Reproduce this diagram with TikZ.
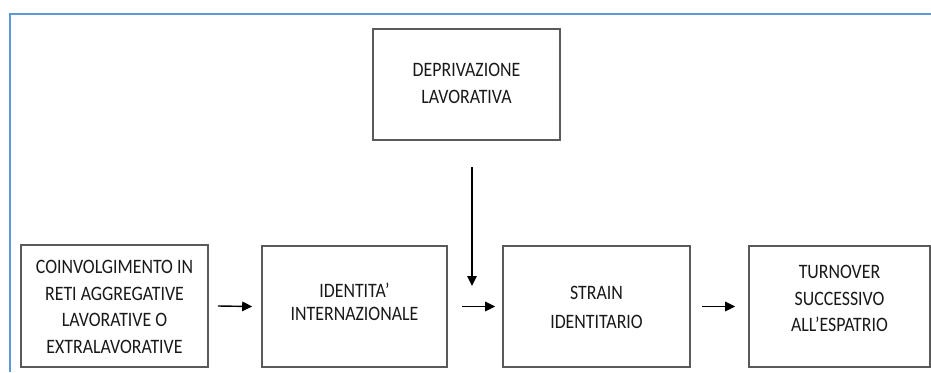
\documentclass[tikz,border=0pt]{standalone}
\usepackage{fontspec}
\setmainfont{Carlito}[FakeStretch=0.87]
\usetikzlibrary{arrows.meta,calc}
\definecolor{framebl}{RGB}{91,155,213}
\definecolor{boxline}{RGB}{90,90,90}
\definecolor{ink}{RGB}{25,25,25}
\tikzset{
  box/.style={draw=boxline, line width=1.6pt, fill=white, inner sep=0pt},
  txt/.style={text=ink, align=center, inner sep=0pt,
    font=\fontsize{20.5}{26.5}\selectfont},
  flow/.style={draw=black, line width=1.4pt,
    -{Triangle[length=10pt,width=9.5pt]}}
}
\begin{document}
\begin{tikzpicture}[x=1pt,y=-1pt]
  \useasboundingbox (0,0) rectangle (931,372);
  % outer frame (only left and top edges visible)
  \draw[framebl, line width=2pt] (10,372) -- (10,13.5) -- (931,13.5);

  % boxes
  \node[box, minimum width=187pt, minimum height=122pt] (b1) at (114.5,306) {};
  \node[box, minimum width=185pt, minimum height=121pt] (b2) at (354.5,306.5) {};
  \node[box, minimum width=187pt, minimum height=121pt] (b3) at (596.5,306.5) {};
  \node[box, minimum width=181pt, minimum height=121pt] (b4) at (839.5,306.5) {};
  \node[box, minimum width=187pt, minimum height=111pt] (dep) at (466.5,84.5) {};

  % labels
  \node[txt] (t1) at ($(b1.center)+(0,1)$) {COINVOLGIMENTO IN\\RETI AGGREGATIVE\\LAVORATIVE O\\EXTRALAVORATIVE};
  \node[txt, font=\fontsize{20.5}{23}\selectfont] (t2) at ($(b2.center)+(0,-5)$) {IDENTITA’\\INTERNAZIONALE};
  \node[txt, font=\fontsize{20.5}{28.5}\selectfont] (t3) at ($(b3.center)+(0,1)$) {STRAIN\\IDENTITARIO};
  \node[txt] (t4) at ($(b4.center)+(0,-8)$) {TURNOVER\\SUCCESSIVO\\ALL’ESPATRIO};
  \node[txt] (t5) at ($(dep.center)+(0,-1)$) {DEPRIVAZIONE\\LAVORATIVA};

  % connectors
  \coordinate (vtop) at (472,167);
  \coordinate (vend) at (472,286);
  \draw[flow] ($(b1.east)+(9,0)$) -- ($(b2.west)+(-9,0)$);
  \draw[flow] ($(b2.east)+(14,0)$) -- ($(b3.west)+(-7,0)$);
  \draw[flow] ($(b3.east)+(11,0)$) -- ($(b4.west)+(-13,0)$);
  \draw[flow] (vtop) -- (vend);
\end{tikzpicture}
\end{document}
